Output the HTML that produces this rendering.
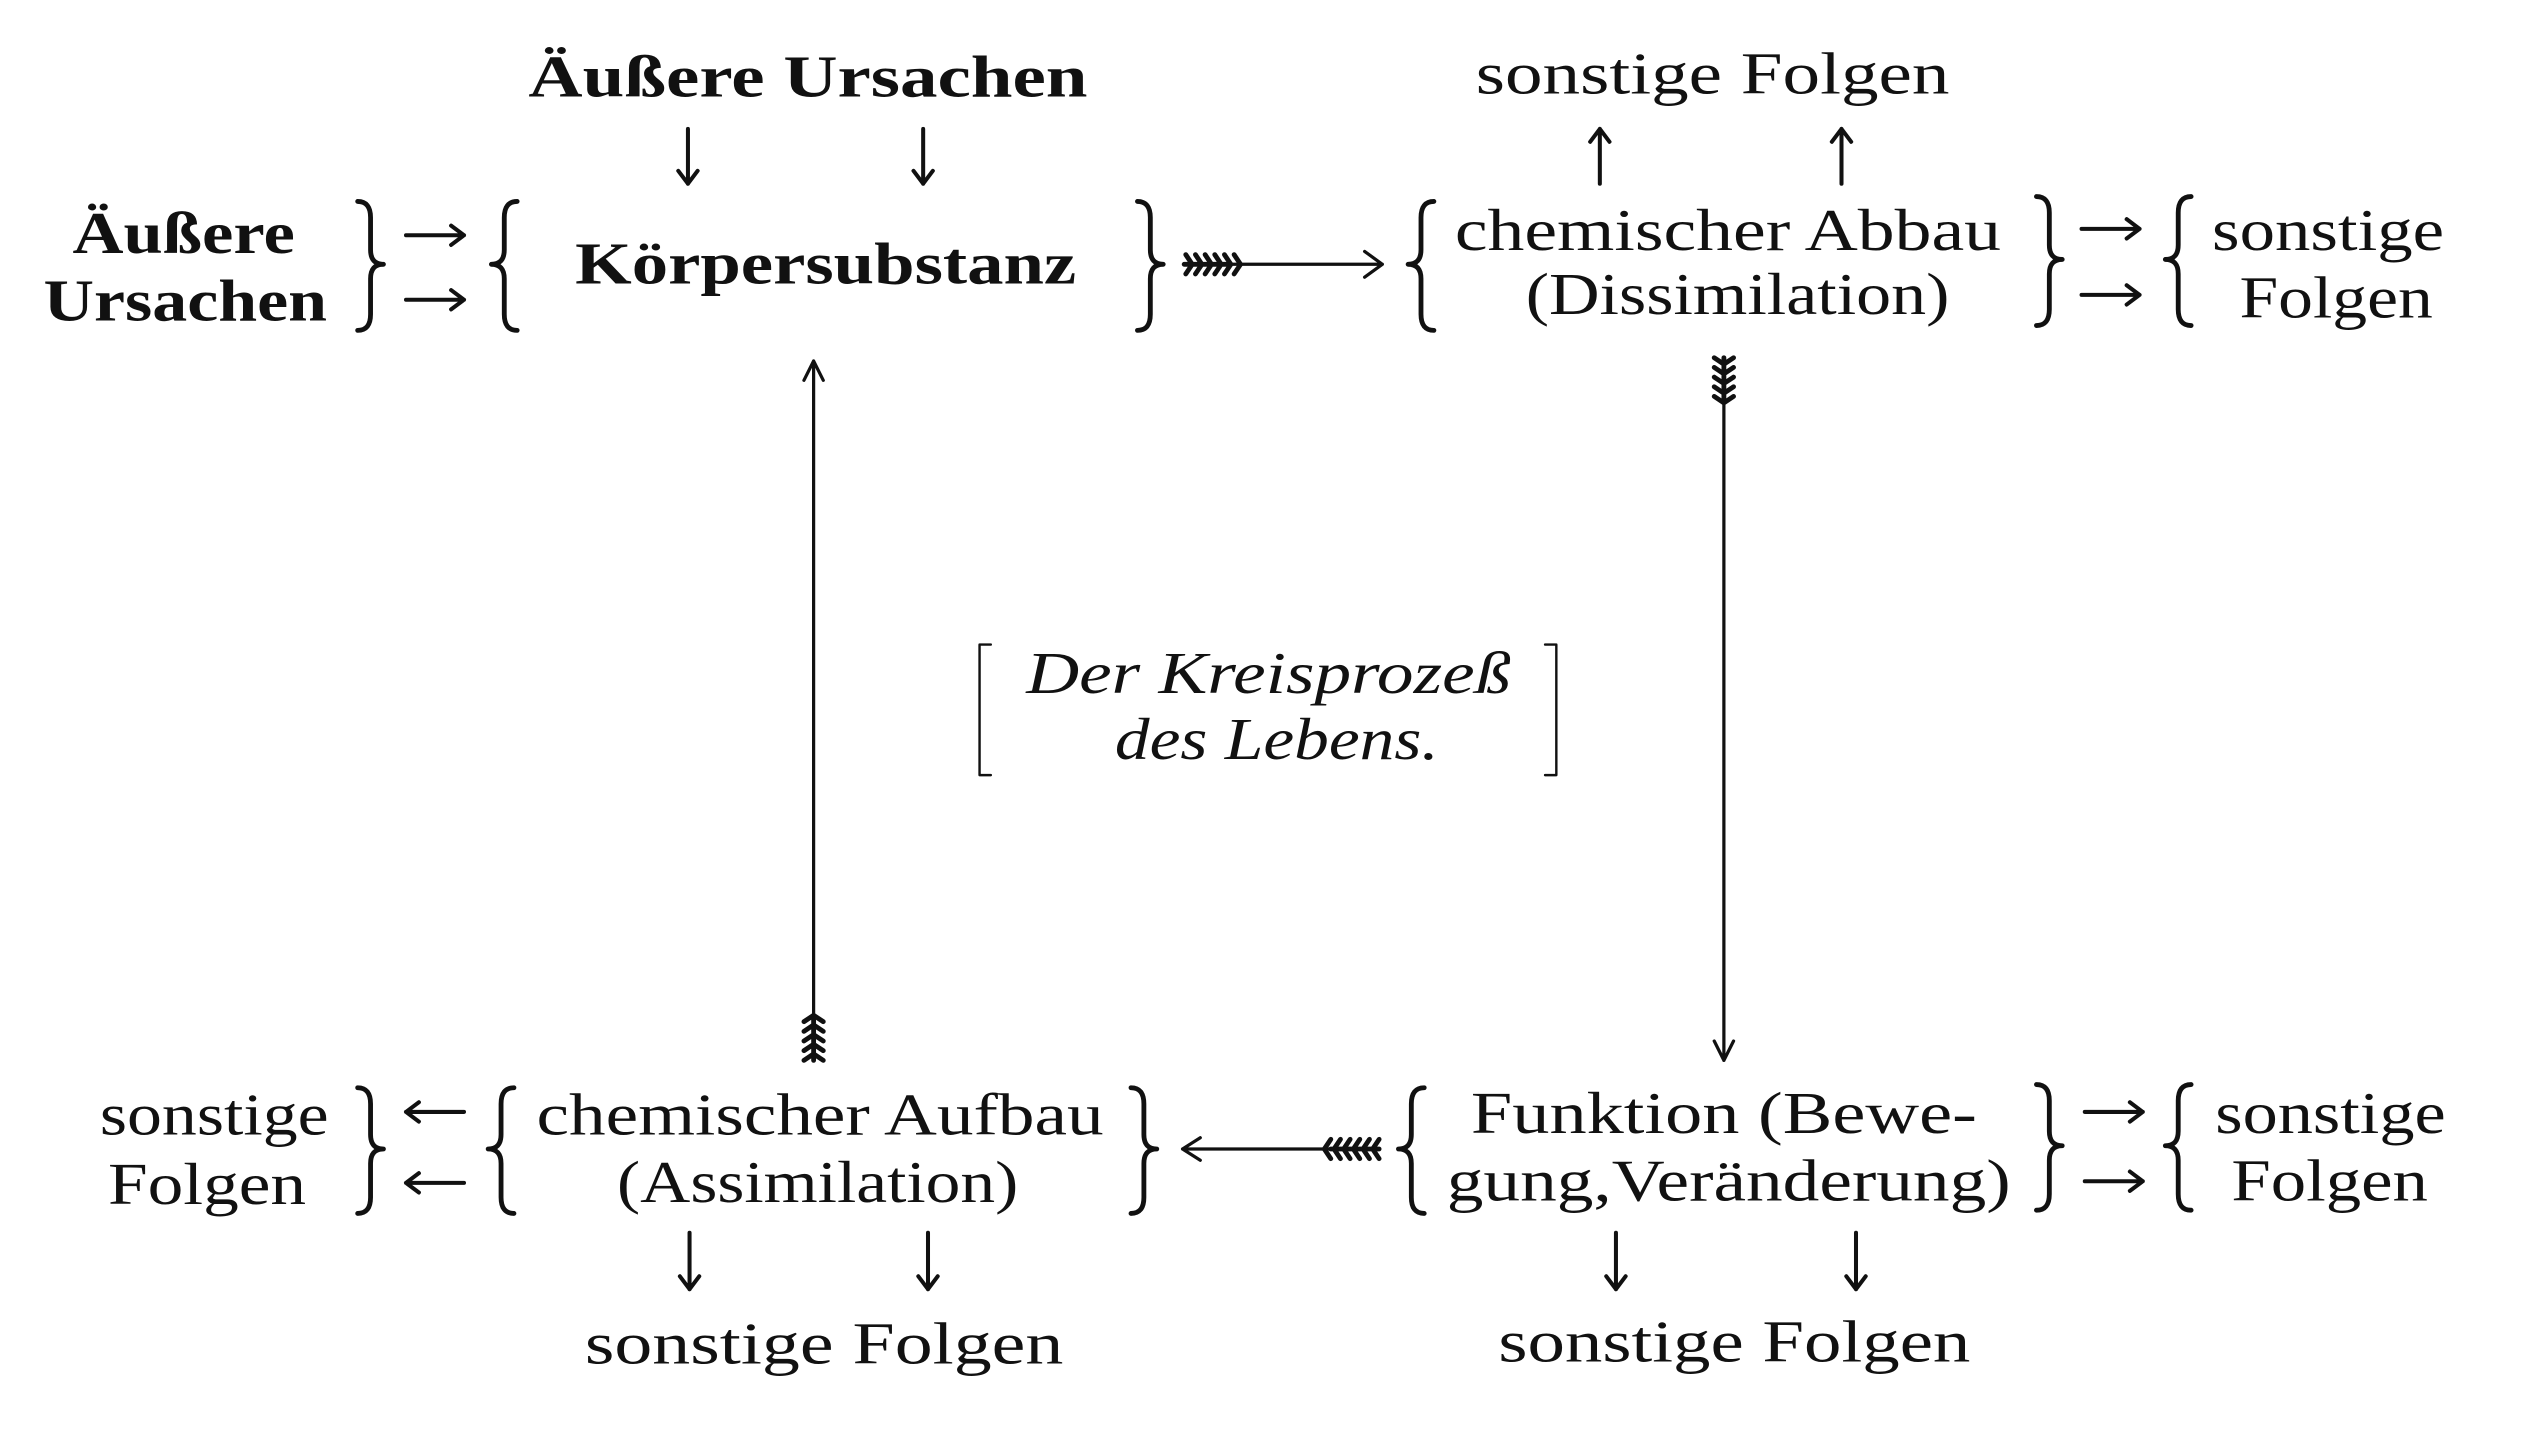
<!DOCTYPE html>
<html><head><meta charset="utf-8"><style>
html,body{margin:0;padding:0;background:#fff;}
svg{display:block;}
text{font-family:"Liberation Serif","DejaVu Serif",serif;fill:#111;font-size:37px;}
.b{font-weight:bold;}
.i{font-style:italic;}
</style></head><body>
<svg width="2523" height="1431" viewBox="0 0 1566 888" preserveAspectRatio="none" xmlns="http://www.w3.org/2000/svg">
<text class="b" x="328" y="60" textLength="347" lengthAdjust="spacingAndGlyphs">Äußere Ursachen</text>
<text x="916" y="58" textLength="294" lengthAdjust="spacingAndGlyphs">sonstige Folgen</text>
<text class="b" x="45" y="157" textLength="138" lengthAdjust="spacingAndGlyphs">Äußere</text>
<text class="b" x="27" y="199" textLength="176" lengthAdjust="spacingAndGlyphs">Ursachen</text>
<text class="b" x="357" y="176" textLength="311" lengthAdjust="spacingAndGlyphs">Körpersubstanz</text>
<text x="903" y="155" textLength="339" lengthAdjust="spacingAndGlyphs">chemischer Abbau</text>
<text x="947" y="195" textLength="263" lengthAdjust="spacingAndGlyphs">(Dissimilation)</text>
<text x="1373" y="155" textLength="144" lengthAdjust="spacingAndGlyphs">sonstige</text>
<text x="1390" y="197" textLength="120" lengthAdjust="spacingAndGlyphs">Folgen</text>
<text class="i" x="637" y="430" textLength="301" lengthAdjust="spacingAndGlyphs">Der Kreisprozeß</text>
<text class="i" x="692" y="471" textLength="201" lengthAdjust="spacingAndGlyphs">des Lebens.</text>
<text x="62" y="704" textLength="142" lengthAdjust="spacingAndGlyphs">sonstige</text>
<text x="67" y="747" textLength="123" lengthAdjust="spacingAndGlyphs">Folgen</text>
<text x="333" y="704" textLength="352" lengthAdjust="spacingAndGlyphs">chemischer Aufbau</text>
<text x="383" y="746" textLength="249" lengthAdjust="spacingAndGlyphs">(Assimilation)</text>
<text x="913" y="703" textLength="314" lengthAdjust="spacingAndGlyphs">Funktion (Bewe-</text>
<text x="898" y="745" textLength="350" lengthAdjust="spacingAndGlyphs">gung,Veränderung)</text>
<text x="1375" y="703" textLength="143" lengthAdjust="spacingAndGlyphs">sonstige</text>
<text x="1385" y="745" textLength="122" lengthAdjust="spacingAndGlyphs">Folgen</text>
<text x="363" y="846" textLength="297" lengthAdjust="spacingAndGlyphs">sonstige Folgen</text>
<text x="930" y="845" textLength="293" lengthAdjust="spacingAndGlyphs">sonstige Folgen</text>

<g stroke="#111" fill="none" stroke-width="3" stroke-linecap="round" stroke-linejoin="round">
<path d="M321,125 Q313,125 313,135 L313,155 Q313,164 305,164 Q313,164 313,173 L313,195 Q313,205 321,205"/>
<path d="M890,125 Q882,125 882,135 L882,155 Q882,164 874,164 Q882,164 882,173 L882,195 Q882,205 890,205"/>
<path d="M1360,122 Q1352,122 1352,132 L1352,152 Q1352,161 1344,161 Q1352,161 1352,170 L1352,192 Q1352,202 1360,202"/>
<path d="M319,675 Q311,675 311,685 L311,704 Q311,713 303,713 Q311,713 311,722 L311,743 Q311,753 319,753"/>
<path d="M884,675 Q876,675 876,685 L876,704 Q876,713 868,713 Q876,713 876,722 L876,743 Q876,753 884,753"/>
<path d="M1360,673 Q1352,673 1352,683 L1352,702 Q1352,711 1344,711 Q1352,711 1352,720 L1352,741 Q1352,751 1360,751"/>
<path d="M222,125 Q230,125 230,135 L230,155 Q230,164 238,164 Q230,164 230,173 L230,195 Q230,205 222,205"/>
<path d="M706,125 Q714,125 714,135 L714,155 Q714,164 722,164 Q714,164 714,173 L714,195 Q714,205 706,205"/>
<path d="M1264,122 Q1272,122 1272,132 L1272,152 Q1272,161 1280,161 Q1272,161 1272,170 L1272,192 Q1272,202 1264,202"/>
<path d="M222,675 Q230,675 230,685 L230,704 Q230,713 238,713 Q230,713 230,722 L230,743 Q230,753 222,753"/>
<path d="M702,675 Q710,675 710,685 L710,704 Q710,713 718,713 Q710,713 710,722 L710,743 Q710,753 702,753"/>
<path d="M1264,673 Q1272,673 1272,683 L1272,702 Q1272,711 1280,711 Q1272,711 1272,720 L1272,741 Q1272,751 1264,751"/>
</g>

<g stroke="#111" fill="none" stroke-width="2.5" stroke-linecap="round" stroke-linejoin="round">
<path d="M252,146 H288 M280,140 L288,146 L280,152"/>
<path d="M252,186 H288 M280,180 L288,186 L280,192"/>
<path d="M1292,142 H1328 M1320,136 L1328,142 L1320,148"/>
<path d="M1292,183 H1328 M1320,177 L1328,183 L1320,189"/>
<path d="M1294,690 H1330 M1322,684 L1330,690 L1322,696"/>
<path d="M1294,733 H1330 M1322,727 L1330,733 L1322,739"/>
<path d="M252,690 H288 M260,684 L252,690 L260,696"/>
<path d="M252,734 H288 M260,728 L252,734 L260,740"/>
<path d="M427,80 V114 M421,106 L427,114 L433,106"/>
<path d="M573,80 V114 M567,106 L573,114 L579,106"/>
<path d="M428,765 V800 M422,792 L428,800 L434,792"/>
<path d="M576,765 V800 M570,792 L576,800 L582,792"/>
<path d="M1003,765 V800 M997,792 L1003,800 L1009,792"/>
<path d="M1152,765 V800 M1146,792 L1152,800 L1158,792"/>
<path d="M993,80 V114 M987,88 L993,80 L999,88"/>
<path d="M1143,80 V114 M1137,88 L1143,80 L1149,88"/>
</g>

<g stroke="#111" fill="none" stroke-width="2" stroke-linecap="round" stroke-linejoin="round">
<path d="M735,164 H858 M847,156 L858,164 L847,172"/>
<path d="M735,164 H764 M736,158 l4,6 l-4,6 M742,158 l4,6 l-4,6 M748,158 l4,6 l-4,6 M754,158 l4,6 l-4,6 M760,158 l4,6 l-4,6 M766,158 l4,6 l-4,6" stroke-width="3"/>
<path d="M505,655 V224 M499,236 L505,224 L511,236"/>
<path d="M505,658 V630 M499,658 l6,-4 l6,4 M499,652 l6,-4 l6,4 M499,646 l6,-4 l6,4 M499,640 l6,-4 l6,4 M499,634 l6,-4 l6,4" stroke-width="3"/>
<path d="M1070,222 V658 M1064,646 L1070,658 L1076,646"/>
<path d="M1070,222 V250 M1064,222 l6,4 l6,-4 M1064,228 l6,4 l6,-4 M1064,234 l6,4 l6,-4 M1064,240 l6,4 l6,-4 M1064,246 l6,4 l6,-4" stroke-width="3"/>
<path d="M856,713 H734 M745,706 L734,713 L745,720"/>
<path d="M856,713 H826 M856,707 l-4,6 l4,6 M850,707 l-4,6 l4,6 M844,707 l-4,6 l4,6 M838,707 l-4,6 l4,6 M832,707 l-4,6 l4,6 M826,707 l-4,6 l4,6" stroke-width="3"/>
<path d="M615,400 H608 V481 H615" stroke-width="1.5"/>
<path d="M959,400 H966 V481 H959" stroke-width="1.5"/>
</g>
</svg>
</body></html>
